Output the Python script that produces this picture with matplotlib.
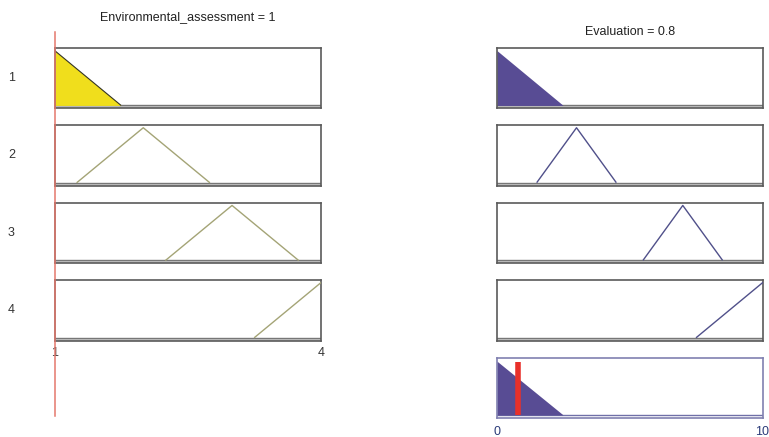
import numpy as np
import matplotlib
matplotlib.use("Agg")
import matplotlib.pyplot as plt

plt.rcParams["font.family"] = ["Liberation Sans", "DejaVu Sans"]

# ---- data ----
input_name = "Environmental_assessment"
output_name = "Evaluation"
input_value = 1
output_value = 0.8
input_range = [1, 4]
output_range = [0, 10]
rule_labels = ["1", "2", "3", "4"]
in_mfs = [[0.25, 1, 1.75], [1.25, 2, 2.75], [2.25, 3, 3.75], [3.25, 4, 4.75]]
out_mfs = [[-2.5, 0, 2.5], [1.5, 3, 4.5], [5.5, 7, 8.5], [7.5, 10, 12.5]]


def trimf(x, p):
    a, b, c = p
    x = np.asarray(x, dtype=float)
    left = np.where(b > a, (x - a) / (b - a if b != a else 1), 1.0)
    right = np.where(c > b, (c - x) / (c - b if c != b else 1), 1.0)
    return np.clip(np.minimum(left, right), 0, 1)


W, H = 769, 437
fig = plt.figure(figsize=(W / 100, H / 100), dpi=100)


def ax_px(x0, y0, x1, y1):
    return fig.add_axes([x0 / W, 1 - y1 / H, (x1 - x0) / W, (y1 - y0) / H])


row_tops = [47.7, 125.0, 202.7, 280.0]
row_h = 60.5
LX0, LX1 = 54.5, 320.8
RX0, RX1 = 496.8, 762.5
YL = (-0.05, 1.05)
edge_c = "#5a5a5a"
in_line_c = "#a4a476"
out_line_c = "#50508a"
out_fill_c = "#584c94"
yellow_c = "#f0de1c"
FS = 9

firing = [float(trimf(input_value, p)) for p in in_mfs]
xi = np.linspace(input_range[0], input_range[1], 601)
xo = np.linspace(output_range[0], output_range[1], 601)


def style_box(ax, ec=edge_c, band="#c8c8c8", line_c="#777777"):
    ax.set_ylim(*YL)
    ax.set_xticks([])
    ax.set_yticks([])
    for s in ax.spines.values():
        s.set_color(ec)
        s.set_linewidth(1.2)
    ax.axhspan(YL[0], 0, color=band, zorder=0, lw=0)
    ax.axhline(0, color=line_c, lw=1.0, zorder=1)


agg = np.zeros_like(xo)
for i, top in enumerate(row_tops):
    # input
    ax = ax_px(LX0, top, LX1, top + row_h)
    ax.set_xlim(*input_range)
    style_box(ax)
    yi = trimf(xi, in_mfs[i])
    if firing[i] > 0:
        ax.fill_between(xi, 0, yi, where=yi > 0, color=yellow_c, lw=0, zorder=2)
        ax.plot(xi[yi > 0], yi[yi > 0], color="#333322", lw=0.8, zorder=3)
    else:
        m = yi > 0
        ax.plot(xi[m], yi[m], color=in_line_c, lw=1.0, zorder=3)
    # output
    ax = ax_px(RX0, top, RX1, top + row_h)
    ax.set_xlim(*output_range)
    style_box(ax)
    yo = np.minimum(trimf(xo, out_mfs[i]), firing[i])
    if firing[i] > 0:
        ax.fill_between(xo, 0, yo, where=yo > 0, color=out_fill_c, lw=0, zorder=2)
        agg = np.maximum(agg, yo)
    else:
        ys = trimf(xo, out_mfs[i])
        m = ys > 0
        ax.plot(xo[m], ys[m], color=out_line_c, lw=1.0, zorder=3)
    fig.text(8 / W, 1 - (top + row_h / 2) / H, rule_labels[i],
             fontsize=FS, color="#333333", va="center", ha="left")

# aggregated output
ax = ax_px(RX0, 358.3, RX1, 417.7)
ax.set_xlim(*output_range)
style_box(ax, ec="#8080b0", band="white", line_c="#7070a8")
ax.fill_between(xo, 0, agg, where=agg > 0, color=out_fill_c, lw=0, zorder=2)
ax.plot([output_value, output_value], [0.0, 0.99], color="#e8302a", lw=4, zorder=4,
        solid_capstyle="butt")

# input cursor line (overlay)
ov = ax_px(LX0, 31.5, LX1, 415.5)
ov.set_xlim(*input_range)
ov.set_ylim(0, 1)
ov.axis("off")
ov.patch.set_alpha(0)
ov.set_zorder(10)
ov.axvline(input_value, color="#e4786c", lw=1.1, clip_on=False)

# tick labels
fig.text(LX0 / W, 1 - 353 / H, str(input_range[0]), fontsize=FS, color="#333333",
         ha="center", va="center")
fig.text(LX1 / W, 1 - 353 / H, str(input_range[1]), fontsize=FS, color="#333333",
         ha="center", va="center")
fig.text(RX0 / W, 1 - 432 / H, str(output_range[0]), fontsize=FS, color="#2a3a78",
         ha="center", va="center")
fig.text(RX1 / W, 1 - 432 / H, str(output_range[1]), fontsize=FS, color="#2a3a78",
         ha="center", va="center")

# titles
fig.text((LX0 + LX1) / 2 / W, 1 - 17 / H, f"{input_name} = {input_value}",
         fontsize=FS, color="#222222", ha="center", va="center")
fig.text((RX0 + RX1) / 2 / W, 1 - 32 / H, f"{output_name} = {output_value}",
         fontsize=FS, color="#222222", ha="center", va="center")

fig.savefig("out.png", dpi=100)
